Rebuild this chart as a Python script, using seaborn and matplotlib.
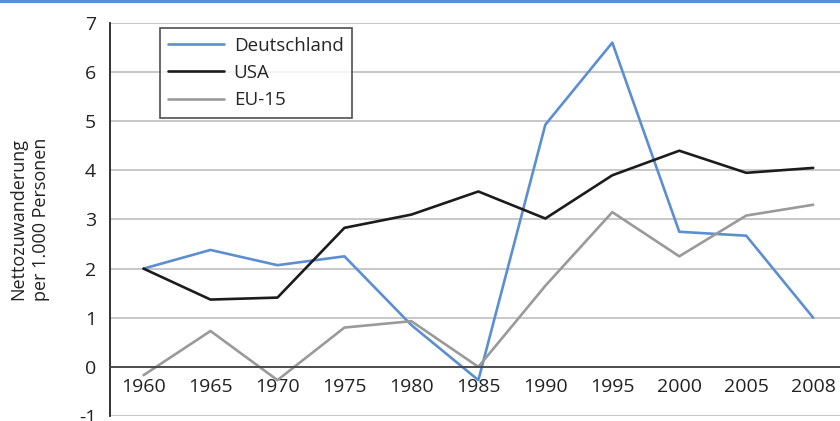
import pandas as pd
import matplotlib.pyplot as plt
import seaborn as sns
from matplotlib.lines import Line2D
from matplotlib.ticker import FixedLocator

# Data
years = ["1960", "1965", "1970", "1975", "1980", "1985", "1990", "1995", "2000", "2005", "2008"]
deutschland = [2.0, 2.38, 2.07, 2.25, 0.85, -0.27, 4.93, 6.6, 2.75, 2.67, 1.0]
usa = [2.0, 1.37, 1.41, 2.83, 3.1, 3.57, 3.02, 3.9, 4.4, 3.95, 4.05]
eu15 = [-0.17, 0.73, -0.27, 0.8, 0.93, 0.0, 1.65, 3.15, 2.25, 3.08, 3.3]

series = ["Deutschland", "USA", "EU-15"]
colors = {"Deutschland": "#5b8fd2", "USA": "#1c1c1c", "EU-15": "#9a9a9a"}

data = pd.DataFrame({
    "Jahr": years * 3,
    "Wert": deutschland + usa + eu15,
    "Land": [s for s in series for _ in years],
})

sns.set_style("white")
plt.rcParams["font.family"] = ["Open Sans", "DejaVu Sans"]
plt.rcParams["axes.unicode_minus"] = False

fig = plt.figure(figsize=(8.4, 4.21), dpi=100)
ax = fig.add_axes([0.131, 0.0119, 0.869, 0.9335])

sns.lineplot(data=data, x="Jahr", y="Wert", hue="Land", palette=colors,
             linewidth=1.9, ax=ax, sort=False)

ax.set_ylim(-1, 7)
ax.set_xlim(-0.5, 10.4)
ax.set_yticks(range(-1, 8))
ax.yaxis.grid(True, color="#c4c4c4", linewidth=1.3)
ax.set_axisbelow(True)

# x axis sits on the zero line
ax.spines["bottom"].set_position(("data", 0))
ax.spines["bottom"].set_color("#444444")
ax.spines["bottom"].set_linewidth(1.3)
ax.spines["left"].set_color("#222222")
ax.spines["left"].set_linewidth(1.3)
ax.spines["top"].set_visible(False)
ax.spines["right"].set_visible(False)

ax.tick_params(axis="x", which="major", length=0, pad=8, labelsize=14, colors="#222222")
ax.xaxis.set_minor_locator(FixedLocator([i + 0.5 for i in range(len(years) - 1)]))
ax.tick_params(axis="x", which="minor", length=6, width=1.3, color="#444444", direction="out")
ax.tick_params(axis="y", length=5, width=1.3, color="#222222", direction="out",
               labelsize=14, labelcolor="#222222", pad=5)

ax.set_xlabel("")
ax.set_ylabel("Nettozuwanderung\nper 1.000 Personen", fontsize=13, color="#222222",
              labelpad=21, linespacing=1.3)

leg = ax.legend(loc="upper left", bbox_to_anchor=(0.068, 0.987), frameon=True, fancybox=False,
                edgecolor="#222222", fontsize=13.5, handlelength=3.0, labelspacing=0.5,
                borderpad=0.45, handletextpad=0.5, borderaxespad=0)
leg.get_frame().set_linewidth(1.2)
for line in leg.get_lines():
    line.set_linewidth(1.9)

# blue rule along the top edge
fig.add_artist(Line2D([0, 1], [0.997, 0.997], transform=fig.transFigure,
                      color="#5b8fd2", linewidth=3))

fig.savefig("out.png", dpi=100)
